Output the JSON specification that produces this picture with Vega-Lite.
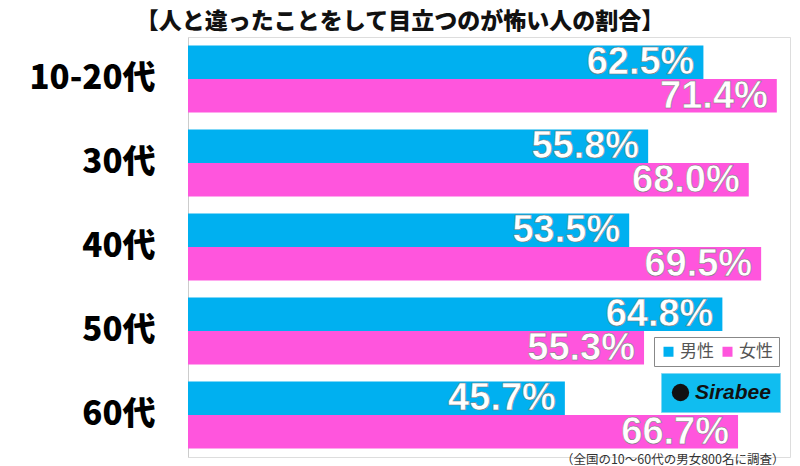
{
  "$schema": "https://vega.github.io/schema/vega-lite/v6.json",
  "autosize": "none",
  "width": 602,
  "height": 420,
  "padding": {"left": 188, "top": 37, "right": 10, "bottom": 9},
  "background": "white",
  "title": {
    "text": "【人と違ったことをして目立つのが怖い人の割合】",
    "font": "Noto Sans CJK JP",
    "fontSize": 23,
    "fontWeight": 900,
    "color": "#111",
    "anchor": "middle",
    "dx": -89,
    "offset": 3
  },
  "data": {
    "values": [
      {"age": "10-20代", "sex": "男性", "value": 0.625},
      {"age": "10-20代", "sex": "女性", "value": 0.714},
      {"age": "30代", "sex": "男性", "value": 0.558},
      {"age": "30代", "sex": "女性", "value": 0.680},
      {"age": "40代", "sex": "男性", "value": 0.535},
      {"age": "40代", "sex": "女性", "value": 0.695},
      {"age": "50代", "sex": "男性", "value": 0.648},
      {"age": "50代", "sex": "女性", "value": 0.553},
      {"age": "60代", "sex": "男性", "value": 0.457},
      {"age": "60代", "sex": "女性", "value": 0.667}
    ]
  },
  "encoding": {
    "y": {
      "field": "age",
      "type": "nominal",
      "sort": ["10-20代", "30代", "40代", "50代", "60代"],
      "scale": {"paddingInner": 0.2, "paddingOuter": 0.1},
      "axis": {
        "title": null,
        "ticks": false,
        "domain": true,
        "domainColor": "#cccccc",
        "labelFont": "Noto Sans CJK JP",
        "labelFontWeight": 900,
        "labelFontSize": 33,
        "labelColor": "#000",
        "labelPadding": 33
      }
    },
    "yOffset": {
      "field": "sex",
      "type": "nominal",
      "sort": ["男性", "女性"],
      "scale": {"paddingInner": 0, "paddingOuter": 0}
    },
    "x": {
      "field": "value",
      "type": "quantitative",
      "scale": {"domain": [0, 0.73], "nice": false},
      "axis": {
        "orient": "bottom",
        "domain": false,
        "ticks": false,
        "labels": false,
        "grid": false,
        "title": "（全国の10～60代の男女800名に調査）",
        "titleFont": "Noto Sans CJK JP",
        "titleFontSize": 12.5,
        "titleFontWeight": "normal",
        "titleColor": "#333",
        "titleAnchor": "end",
        "titleAlign": "right",
        "titleX": 596,
        "titleY": 2,
        "titleBaseline": "middle"
      }
    }
  },
  "layer": [
    {
      "mark": {"type": "bar", "cornerRadius": 0},
      "encoding": {
        "color": {
          "field": "sex",
          "type": "nominal",
          "scale": {"domain": ["男性", "女性"], "range": ["#00B0F0", "#FF55DD"]},
          "legend": {
            "title": null,
            "orient": "none",
            "legendX": 466,
            "legendY": 300,
            "direction": "horizontal",
            "symbolType": "square",
            "symbolSize": 100,
            "symbolStrokeWidth": 0,
            "labelFont": "Noto Sans CJK JP",
            "labelFontSize": 17,
            "labelColor": "#555",
            "labelOffset": 3,
            "columnPadding": 5,
            "padding": 6,
            "strokeColor": "#888",
            "fillColor": "white"
          }
        },
        "opacity": {
          "datum": "Sirabee",
          "type": "ordinal",
          "scale": {"range": [1]},
          "legend": {
            "title": null,
            "orient": "none",
            "legendX": 473,
            "legendY": 336,
            "symbolType": "circle",
            "symbolSize": 300,
            "symbolFillColor": "#111",
            "symbolStrokeColor": "#111",
            "symbolStrokeWidth": 0,
            "symbolOpacity": 1,
            "labelFont": "Liberation Sans",
            "labelFontStyle": "italic",
            "labelFontWeight": "bold",
            "labelFontSize": 21,
            "labelColor": "#111",
            "labelOffset": 4,
            "padding": 9,
            "fillColor": "#10BDF0",
            "strokeColor": "#7fd8f5"
          }
        }
      }
    },
    {
      "mark": {
        "type": "text",
        "align": "right",
        "baseline": "middle",
        "dx": -9,
        "dy": 1,
        "font": "Liberation Sans",
        "fontWeight": "bold",
        "fontSize": 38,
        "fill": "white",
        "stroke": "#777",
        "strokeWidth": 0.5
      },
      "encoding": {
        "text": {"field": "value", "type": "quantitative", "format": ".1%"}
      }
    }
  ]
}
